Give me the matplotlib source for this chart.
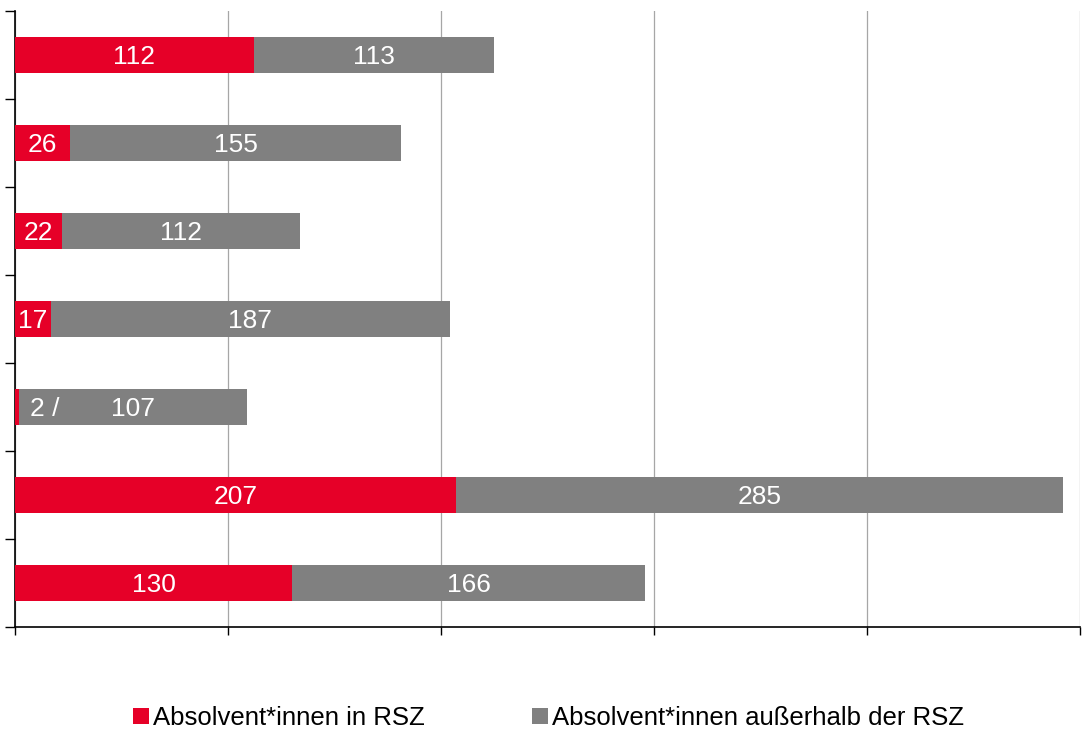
import numpy as np
import matplotlib
matplotlib.use('Agg')
import matplotlib.pyplot as plt

plt.rcParams['font.family'] = ['Liberation Sans', 'DejaVu Sans']

in_rsz = [112, 26, 22, 17, 2, 207, 130]
outside_rsz = [113, 155, 112, 187, 107, 285, 166]
labels_in = ['112', '26', '22', '17', '2 /', '207', '130']
labels_out = ['113', '155', '112', '187', '107', '285', '166']
legend_names = ['Absolvent*innen in RSZ', 'Absolvent*innen außerhalb der RSZ']

red = '#E60028'
grey = '#808080'

fig = plt.figure(figsize=(10.82, 7.31), dpi=100)
ax = fig.add_axes([15 / 1082, 1 - 627 / 731, 1065 / 1082, 616 / 731])

y = np.arange(len(in_rsz))
b1 = ax.barh(y, in_rsz, height=0.4, color=red, label=legend_names[0], zorder=3)
b2 = ax.barh(y, outside_rsz, left=in_rsz, height=0.4, color=grey, label=legend_names[1], zorder=3)

fs = 19
for i in range(len(y)):
    if in_rsz[i] < 10:
        # too small to hold its label, the label sits right after the red part
        ax.text(in_rsz[i] + 5, y[i], labels_in[i], color='white', fontsize=fs,
                ha='left', va='center_baseline', zorder=4)
    else:
        ax.text(in_rsz[i] / 2, y[i], labels_in[i], color='white', fontsize=fs,
                ha='center', va='center_baseline', zorder=4)
    ax.text(in_rsz[i] + outside_rsz[i] / 2, y[i], labels_out[i], color='white', fontsize=fs,
            ha='center', va='center_baseline', zorder=4)

ax.set_xlim(0, 500)
ax.set_ylim(len(y) - 0.5, -0.5)
ax.set_xticks(np.arange(0, 501, 100))
ax.set_xticklabels([])
ax.set_yticks(np.arange(-0.5, len(y), 1))
ax.set_yticklabels([])
ax.tick_params(axis='x', direction='out', length=6, width=1, color='black')
ax.tick_params(axis='y', direction='out', length=7, width=1, color='black')
ax.grid(axis='x', color='#a6a6a6', linewidth=0.9, zorder=0)
ax.spines['top'].set_visible(False)
ax.spines['right'].set_visible(False)
ax.spines['left'].set_color('black')
ax.spines['bottom'].set_color('black')
ax.spines['left'].set_linewidth(1.2)
ax.spines['bottom'].set_linewidth(1.2)

fig.legend(handles=[b1, b2], loc='center', bbox_to_anchor=(0.507, 0.018), ncol=2,
           frameon=False, fontsize=18.5, handlelength=0.6, handleheight=0.6,
           handletextpad=0.15, columnspacing=4.2)

fig.savefig('out.png', dpi=100)
